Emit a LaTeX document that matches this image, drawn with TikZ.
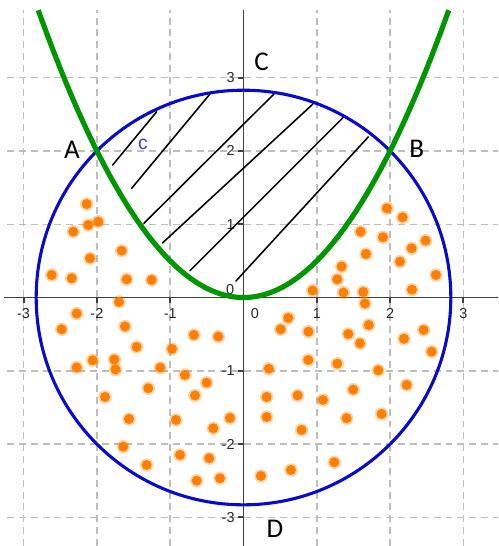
\documentclass[tikz,border=0pt]{standalone}
\usepackage{fontspec}
\setmainfont{Liberation Sans}
\newfontfamily\calfont{Carlito}
\definecolor{circblue}{RGB}{10,10,205}
\definecolor{parabgreen}{RGB}{0,150,0}
\definecolor{dotorange}{RGB}{255,128,0}
\definecolor{gridgray}{RGB}{190,190,190}
\begin{document}
\begin{tikzpicture}[x=1cm,y=1cm,
  gridline/.style={draw=gridgray, line width=0.55pt, dash pattern=on 2.7pt off 1.9pt},
  axisline/.style={draw=black!75, line width=0.75pt},
  ticklab/.style={font=\fontsize{5.6}{6}\selectfont, text=black!85, inner sep=0pt},
  ptlab/.style={font=\calfont\fontsize{10.5}{12}\selectfont, inner sep=0pt},
  hatchline/.style={draw=black, line width=0.6pt, line cap=round},
  blob/.style={fill=dotorange},
  blobhalo/.style={fill=dotorange, opacity=0.35}
]
\useasboundingbox (-3.322,-3.390) rectangle (3.472,4.059);
% grid
\foreach \i in {-3,-2,-1,1,2,3}{
  \draw[gridline] (\i,-3.39) -- (\i,3.922);
}
\foreach \j in {-3,-2,-1,1,2,3}{
  \draw[gridline] (-3.226,\j) -- (3.472,\j);
}
% axes
\draw[axisline] (-3.27,0) -- (3.472,0);
\draw[axisline] (0,-3.39) -- (0,3.922);
\foreach \i in {-3,-2,-1,1,2,3}{
  \draw[axisline] (\i,0) -- (\i,-0.07);
  \draw[axisline] (0,\i) -- (-0.07,\i);
  \node[ticklab] (xl\i) at (\i,-0.214) {\i};
  \node[ticklab, anchor=east] (yl\i) at (-0.115,\i) {\i};
}
\node[ticklab] (xl0) at (0.157,-0.214) {0};
\node[ticklab] (yl0) at (-0.184,0.112) {0};
% pixel-coordinate scope
\begin{scope}[shift={(-3.3220,4.0587)}, x=0.013643cm, y=-0.013643cm]
  % hatching
  \draw[hatchline] (112.7,165) -- (156.7,111.7);
  \draw[hatchline] (131.7,188.3) -- (210,94);
  \draw[hatchline] (144,223.3) -- (274,94);
  \draw[hatchline] (162.5,243) -- (313,104);
  \draw[hatchline] (190,270.7) -- (344,116.7);
  \draw[hatchline] (236,281) -- (368.3,137);
  % orange blobs
  \foreach \a/\b in {
    86.7/204, 98.3/221.7, 88.3/225, 73.3/231.7, 121.7/250.7, 90/258.3,
    51.7/275, 71.7/278.3, 126.7/279.3, 151.7/280,
    119/302, 76.7/313.5, 61.7/329.3, 125/326.5, 136.7/347, 172/349,
    194/335, 218.3/336.7, 92.7/360.3, 76.7/367.5, 114.3/359.5, 115.5/369.5,
    160.3/367.7, 185/375, 206.7/382.7, 148.3/388.3, 195/395.5, 105/397,
    129/419, 176/420, 230/418, 213.3/428.3, 123.3/446.7, 180/455,
    209.3/458.3, 146.7/465, 196.7/480.7, 220/478.3,
    288.3/318, 280.7/329.3, 308.5/331.7, 308.3/360, 268.8/368.8,
    266.7/397, 266.7/417, 297.7/395.5, 323/400, 301.7/430, 346.7/418.3,
    381.7/414, 261/476, 291/470, 334.3/462.3,
    337.3/279.3, 312.7/290.5, 343.5/292.5, 363.3/292, 365/303.5,
    412/289.7, 436/275, 348.3/334, 368.8/325, 360/343.3, 404/338.8,
    423.7/330, 431.7/351.7, 337.3/363.7, 378.3/370.3, 406.7/385, 353.3/389.7,
    387/208.3, 402.7/217.3, 360.7/231.7, 383/237.3, 411.7/248.3,
    425.7/240.7, 366/254, 400/261.7, 341.7/266.5}{
    \fill[blobhalo] (\a,\b) circle (2.6pt);
    \fill[blob] (\a,\b) circle (1.95pt);
  }
\end{scope}
% circle and parabola
\draw[circblue, line width=1.2pt] (0,0) circle (2.8284);
\draw[parabgreen, line width=2pt] plot[domain=-2.80:2.80, samples=120] (\x,{\x*\x/2});
% labels
\node[ptlab] (A) at (-2.34,2.02) {A};
\node[ptlab] (B) at (2.363,2.035) {B};
\node[ptlab] (C) at (0.248,3.217) {C};
\node[ptlab] (D) at (0.430,-3.149) {D};
\node[font=\fontsize{7.5}{8}\selectfont, text=circblue!80, inner sep=0pt] (c) at (-1.371,2.094) {c};
\end{tikzpicture}
\end{document}
